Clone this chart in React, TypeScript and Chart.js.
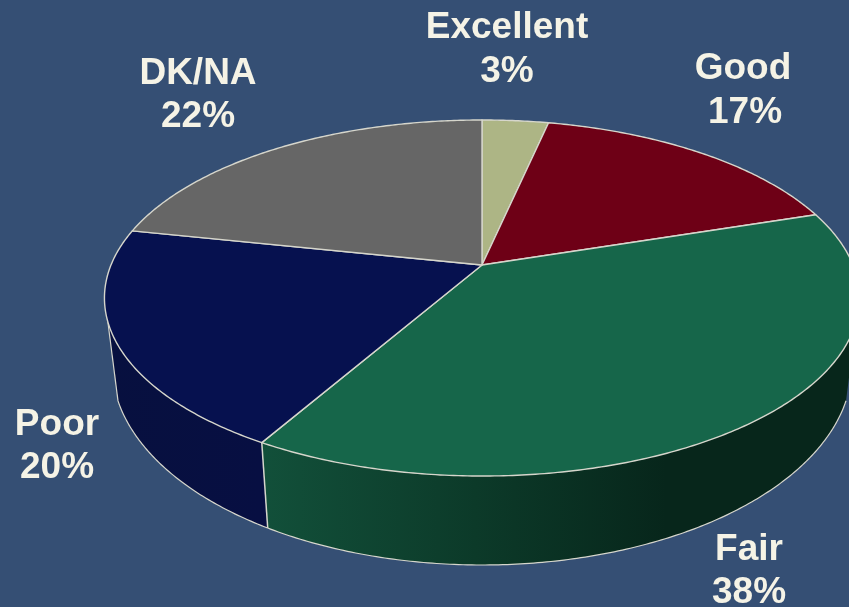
import React, { useEffect, useRef } from "react";
import { Chart, registerables } from "chart.js";

Chart.register(...registerables);

const categories = ["Excellent", "Good", "Fair", "Poor", "DK/NA"];
const values = [3.4, 16.6, 38.3, 20.0, 21.7];
const faceColors = ["#adb585", "#6e0016", "#16664a", "#06114f", "#666666"];
const wallColors = [
  ["#8a9068", "#8a9068"],
  ["#3a000c", "#3a000c"],
  ["#12503a", "#07261b"],
  ["#07103f", "#070f42"],
  ["#333333", "#333333"],
];
const labelAnchors = [
  [507, 28],
  [743, 69],
  [749, 550],
  [57, 425],
  [198, 74],
];
const percentAnchors = [
  [507, 72],
  [745, 113],
  [749, 593],
  [57, 468],
  [198, 117],
];

const LINE = "#d6d6cc";
const TEXT = "#f5f3e6";
const BG = "#354f74";

// Perspective projection of the disc's top face
const CX = 482;
const APEX_Y = 265;
const PERSP = -0.1854;
const AY = 171.9;
const BX = 371;
const WALL_FROM = 0.317;
const WALL_TO = 2.824;

const top = (a: number): [number, number] => {
  const d = 1 + PERSP * Math.sin(a);
  return [CX + (BX * Math.cos(a)) / d, APEX_Y + (AY * Math.sin(a)) / d];
};
const bottom = (a: number): [number, number] => {
  const dx = (top(a)[0] - CX) * 0.973;
  const q = Math.max(0, 1 - (dx / 370) * (dx / 370));
  return [CX + dx, 365 + 200 * Math.sqrt(q)];
};
const sweep = (from: number, to: number): number[] => {
  const n = Math.max(2, Math.ceil(Math.abs(to - from) / 0.01));
  const out: number[] = [];
  for (let i = 0; i <= n; i++) out.push(from + ((to - from) * i) / n);
  return out;
};

const perspectivePie = {
  id: "perspectivePie",
  beforeDatasetsDraw(chart: any) {
    const ctx = chart.ctx as CanvasRenderingContext2D;
    const arcs = chart.getDatasetMeta(0).data;
    ctx.save();
    ctx.lineJoin = "round";
    ctx.strokeStyle = LINE;

    // side wall
    arcs.forEach((arc: any, i: number) => {
      const s = Math.max(arc.startAngle, WALL_FROM);
      const e = Math.min(arc.endAngle, WALL_TO);
      if (e <= s) return;
      const upper = sweep(s, e).map(top);
      const lower = sweep(e, s).map(bottom);
      const xa = Math.min(upper[0][0], upper[upper.length - 1][0]);
      const xb = Math.max(upper[0][0], upper[upper.length - 1][0]);
      const g = ctx.createLinearGradient(xa, 0, xb, 0);
      const pair = wallColors[i];
      g.addColorStop(0, pair[0]);
      if (i === 2) g.addColorStop(0.36, "#0c3a29");
      g.addColorStop(i === 2 ? 0.68 : 1, pair[1]);
      if (i === 2) g.addColorStop(1, pair[1]);
      ctx.beginPath();
      upper.concat(lower).forEach((p, k) => (k ? ctx.lineTo(p[0], p[1]) : ctx.moveTo(p[0], p[1])));
      ctx.closePath();
      ctx.fillStyle = g;
      ctx.fill();
      ctx.lineWidth = 1.2;
      ctx.beginPath();
      lower.forEach((p, k) => (k ? ctx.lineTo(p[0], p[1]) : ctx.moveTo(p[0], p[1])));
      ctx.stroke();
      if (i === 3) {
        const a = top(e);
        const b = lower[0];
        ctx.beginPath();
        ctx.moveTo(a[0], a[1]);
        ctx.lineTo(b[0], b[1]);
        ctx.stroke();
      }
    });

    // Fair / Poor seam on the wall
    const seam = arcs[2].endAngle;
    ctx.lineWidth = 1.5;
    ctx.beginPath();
    ctx.moveTo(top(seam)[0], top(seam)[1]);
    ctx.lineTo(bottom(seam)[0], bottom(seam)[1]);
    ctx.stroke();

    // top faces
    arcs.forEach((arc: any) => {
      const rim = sweep(arc.startAngle, arc.endAngle).map(top);
      ctx.beginPath();
      ctx.moveTo(CX, APEX_Y);
      rim.forEach((p) => ctx.lineTo(p[0], p[1]));
      ctx.closePath();
      ctx.fillStyle = arc.options.backgroundColor;
      ctx.fill();
      ctx.lineWidth = 1.4;
      ctx.strokeStyle = arc.options.borderColor;
      ctx.stroke();
    });

    // labels
    ctx.fillStyle = TEXT;
    ctx.font = 'bold 37px "Liberation Sans", Arial, sans-serif';
    ctx.textAlign = "center";
    ctx.textBaseline = "middle";
    categories.forEach((name, i) => {
      ctx.fillText(name, labelAnchors[i][0], labelAnchors[i][1]);
      ctx.fillText(`${Math.round(values[i])}%`, percentAnchors[i][0], percentAnchors[i][1]);
    });
    ctx.restore();
    return false;
  },
};

export default function App() {
  const ref = useRef<HTMLCanvasElement>(null);
  useEffect(() => {
    document.body.style.margin = "0";
    document.body.style.background = BG;
    const chart = new Chart(ref.current!, {
      type: "doughnut",
      data: {
        labels: categories,
        datasets: [
          {
            data: values,
            backgroundColor: faceColors,
            borderColor: LINE,
            borderWidth: 1.4,
          },
        ],
      },
      options: {
        animation: false,
        responsive: false,
        cutout: 0,
        rotation: 0,
        plugins: { legend: { display: false }, tooltip: { enabled: false } },
      },
      plugins: [perspectivePie],
    });
    return () => chart.destroy();
  }, []);
  return (
    <canvas
      ref={ref}
      width={849}
      height={607}
      style={{ display: "block", width: 849, height: 607, background: BG }}
    />
  );
}
